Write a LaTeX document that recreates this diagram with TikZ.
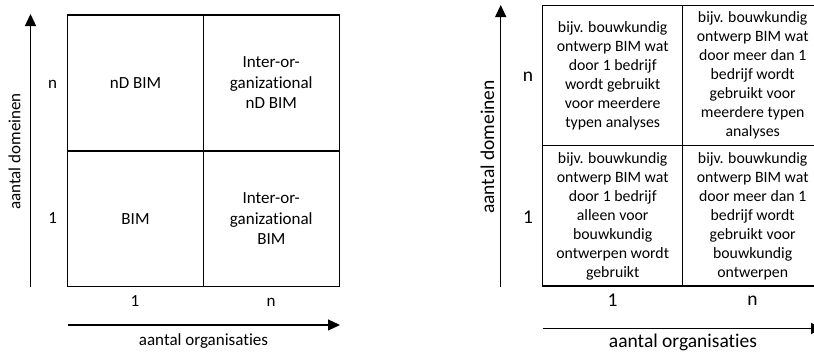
\documentclass[tikz,border=0pt]{standalone}
\usepackage{fontspec}
\setmainfont[Ligatures=NoCommon]{Carlito}
\usetikzlibrary{arrows.meta}
\begin{document}
\begin{tikzpicture}[x=1pt,y=-1pt,
  grid/.style={draw=black,line width=1.3pt,minimum width=#1,inner sep=0pt,outer sep=0pt},
  cellL/.style={grid=135.8pt,minimum height=135.8pt,align=center,font=\fontsize{17}{20.5}\selectfont},
  cellR/.style={grid=140pt,minimum height=140.2pt,align=center,font=\fontsize{15.8}{19}\selectfont},
  lblL/.style={font=\fontsize{17}{20.5}\selectfont,inner sep=0pt},
  lblR/.style={font=\fontsize{19.5}{23}\selectfont,inner sep=0pt},
  axis/.style={line width=1.3pt,-{Triangle[length=12pt,width=11pt]}}]
\useasboundingbox (0,0) rectangle (814,354);
% ---------- left panel ----------
\node[cellL] (l11) at (135.5,83) {nD BIM};
\node[cellL] (l12) at (271.3,83) {Inter-or-\\ganizational\\nD BIM};
\node[cellL] (l21) at (135.5,218.8) {BIM};
\node[cellL] (l22) at (271.3,218.8) {Inter-or-\\ganizational\\BIM};
\coordinate (lyb) at (30.5,286.7);
\coordinate (lyt) at (30.5,14);
\coordinate (lxl) at (67.7,325);
\coordinate (lxr) at (340,325);
\draw[axis] (lyb) -- (lyt);
\draw[axis] (lxl) -- (lxr);
\node[lblL] (lyn) at (52.7,84) {n};
\node[lblL] (ly1) at (52.7,218.5) {1};
\node[lblL] (lx1) at (135,301.5) {1};
\node[lblL] (lxn) at (271,302) {n};
\node[lblL] (lxlab) at (203.5,341) {aantal organisaties};
\node[lblL,rotate=90] (lylab) at (14.5,151.5) {aantal domeinen};
% ---------- right panel ----------
\node[cellR] (r11) at (612.7,75.7) {bijv. bouwkundig\\ontwerp BIM wat\\door 1 bedrijf\\wordt gebruikt\\voor meerdere\\typen analyses};
\node[cellR] (r12) at (752.7,75.7) {bijv. bouwkundig\\ontwerp BIM wat\\door meer dan 1\\bedrijf wordt\\gebruikt voor\\meerdere typen\\analyses};
\node[cellR] (r21) at (612.7,215.9) {bijv. bouwkundig\\ontwerp BIM wat\\door 1 bedrijf\\alleen voor\\bouwkundig\\ontwerpen wordt\\gebruikt};
\node[cellR] (r22) at (752.7,215.9) {bijv. bouwkundig\\ontwerp BIM wat\\door meer dan 1\\bedrijf wordt\\gebruikt voor\\bouwkundig\\ontwerpen};
\coordinate (ryb) at (500.7,286.5);
\coordinate (ryt) at (500.7,5);
\coordinate (rxl) at (542.7,328.5);
\coordinate (rxr) at (823,328.5);
\draw[axis] (ryb) -- (ryt);
\draw[axis] (rxl) -- (rxr);
\node[lblR] (ryn) at (528,77) {n};
\node[lblR] (ry1) at (528,217) {1};
\node[lblR] (rx1) at (612.5,300) {1};
\node[lblR] (rxn) at (752.5,301) {n};
\node[lblR] (rxlab) at (683,342) {aantal organisaties};
\node[lblR,rotate=90] (rylab) at (487.5,147) {aantal domeinen};
\end{tikzpicture}
\end{document}
